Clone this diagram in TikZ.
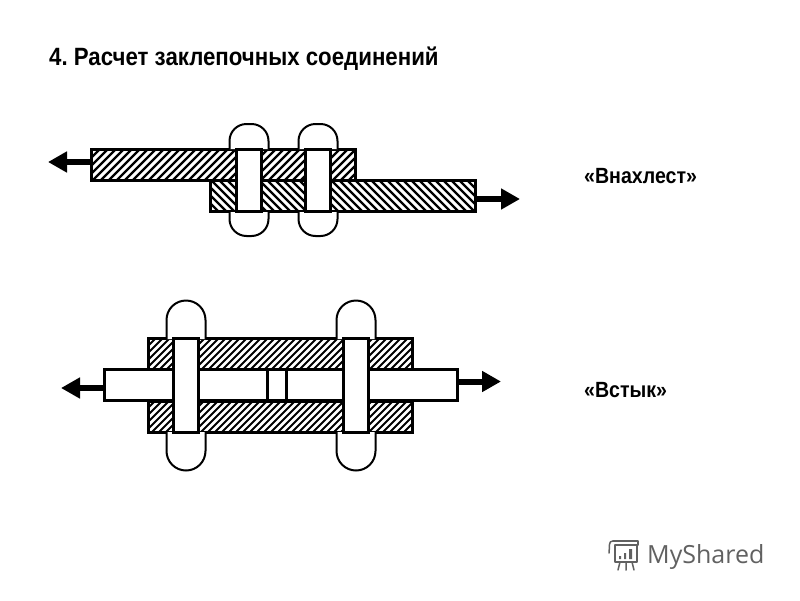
\documentclass[tikz,border=0pt]{standalone}
\usepackage{fontspec}
\setmainfont{Liberation Sans}
\newfontfamily\narrowbold[FakeStretch=0.89]{Liberation Sans}
\newfontfamily\logofont{Open Sans}
\newcommand{\hatchbox}[6]{%
  \begin{scope}
    \clip (#1,#2) rectangle (#3,#4);
    \pgfmathsetmacro{\hstart}{min(#5*#1+#2,#5*#3+#4,#5*#1+#4,#5*#3+#2)}
    \pgfmathsetmacro{\hnext}{\hstart+#6}
    \pgfmathsetmacro{\hend}{max(#5*#1+#2,#5*#3+#4,#5*#1+#4,#5*#3+#2)}
    \foreach \c in {\hstart,\hnext,...,\hend}{
      \draw[hatchline] ({#5*(\c-#2)},#2) -- ({#5*(\c-#4)},#4);
    }
  \end{scope}%
}
\usetikzlibrary{arrows.meta}
\tikzset{
  hatchline/.style={line width=2.3pt,black},
  finehatch/.style={hatchline/.style={line width=1.9pt,black}},
  plate/.style={line width=3pt,draw=black,line join=miter},
  shank/.style={line width=3pt,draw=black,fill=white},
  head/.style={line width=2pt,draw=black,fill=white},
  force/.style={line width=6pt,black,-{Triangle[length=19pt,width=20pt]}},
  label/.style={font=\frenchspacing\narrowbold\bfseries\fontsize{22}{24}\selectfont,anchor=base west,inner sep=0pt},
  logoline/.style={line width=1.5pt,draw=black!62,line cap=round,line join=round},
}
\begin{document}
\begin{tikzpicture}[x=1pt,y=-1pt]
\useasboundingbox (0,0) rectangle (800,600);
\fill[white] (0,0) rectangle (800,600);

% Title and labels
\node[label,font=\frenchspacing\narrowbold\bfseries\fontsize{25}{28}\selectfont] (title) at (49,65) {4. Расчет заклепочных соединений};
\node[label] (lapname) at (584,183) {«Внахлест»};
\node[label] (buttname) at (584,397) {«Встык»};

% ---- Lap joint ----
\hatchbox{91}{150}{356}{181}{1}{8}
\hatchbox{210}{181}{476}{212}{-1}{8}
\draw[plate] (91.5,149.5) rectangle (355.5,180.5);
\draw[plate] (210.5,180.5) rectangle (475.5,211.5);
\foreach \cx in {249,318}{
  \draw[head,rounded corners=17pt] (\cx-19.5,149) -- (\cx-19.5,124) -- (\cx+19.5,124) -- (\cx+19.5,149);
  \draw[head,rounded corners=17pt] (\cx-19.5,212) -- (\cx-19.5,236) -- (\cx+19.5,236) -- (\cx+19.5,212);
  \draw[shank] (\cx-12.5,149.5) rectangle (\cx+12.5,211.5);
}
\coordinate (lapL) at (90,162);
\coordinate (lapLtip) at (48,162);
\coordinate (lapR) at (477,199);
\coordinate (lapRtip) at (520,199);
\draw[force] (lapL) -- (lapLtip);
\draw[force] (lapR) -- (lapRtip);

% ---- Butt joint ----
\begin{scope}[finehatch]
\hatchbox{148}{339}{413}{370}{1}{7}
\hatchbox{148}{401}{413}{433}{1}{7}
\end{scope}
\draw[plate] (148.5,338.5) rectangle (412.5,369.5);
\draw[plate] (148.5,401) rectangle (412.5,432.5);
\draw[plate,fill=white] (104.5,369.5) rectangle (457.5,400.5);
\draw[plate] (267.5,369.5) -- (267.5,400.5);
\draw[plate] (286.5,369.5) -- (286.5,400.5);
\foreach \cx in {186,356}{
  \draw[head] (\cx-19.5,339) -- (\cx-19.5,320) arc[start angle=180,end angle=360,radius=19.5] -- (\cx+19.5,339);
  \draw[head] (\cx-19.5,432) -- (\cx-19.5,451) arc[start angle=180,end angle=0,radius=19.5] -- (\cx+19.5,432);
  \draw[shank] (\cx-12.5,338.5) rectangle (\cx+12.5,432.5);
}
\coordinate (buttL) at (103,388);
\coordinate (buttLtip) at (61,388);
\coordinate (buttR) at (459,381.5);
\coordinate (buttRtip) at (501,381.5);
\draw[force] (buttL) -- (buttLtip);
\draw[force] (buttR) -- (buttRtip);

% ---- Logo ----
\node[anchor=base west,inner sep=0pt,text=black!62,font=\logofont\fontsize{25}{30}\selectfont] (logo) at (647,563) {MyShared};
\draw[logoline] (613,541) -- (638,541) -- (638,545) -- (615,545);
\draw[logoline] (613,541) .. controls (608,541) and (610,546) .. (609,553);
\draw[logoline] (615,545) -- (615,562) -- (637,562) -- (637,545);
\draw[logoline] (620,562) -- (618,570) (626,562) -- (626,570) (632,562) -- (634,570);
\fill[black!62] (619,556) rectangle (621,559) (624,553) rectangle (626,559) (629,549) rectangle (632,559);
\end{tikzpicture}
\end{document}
